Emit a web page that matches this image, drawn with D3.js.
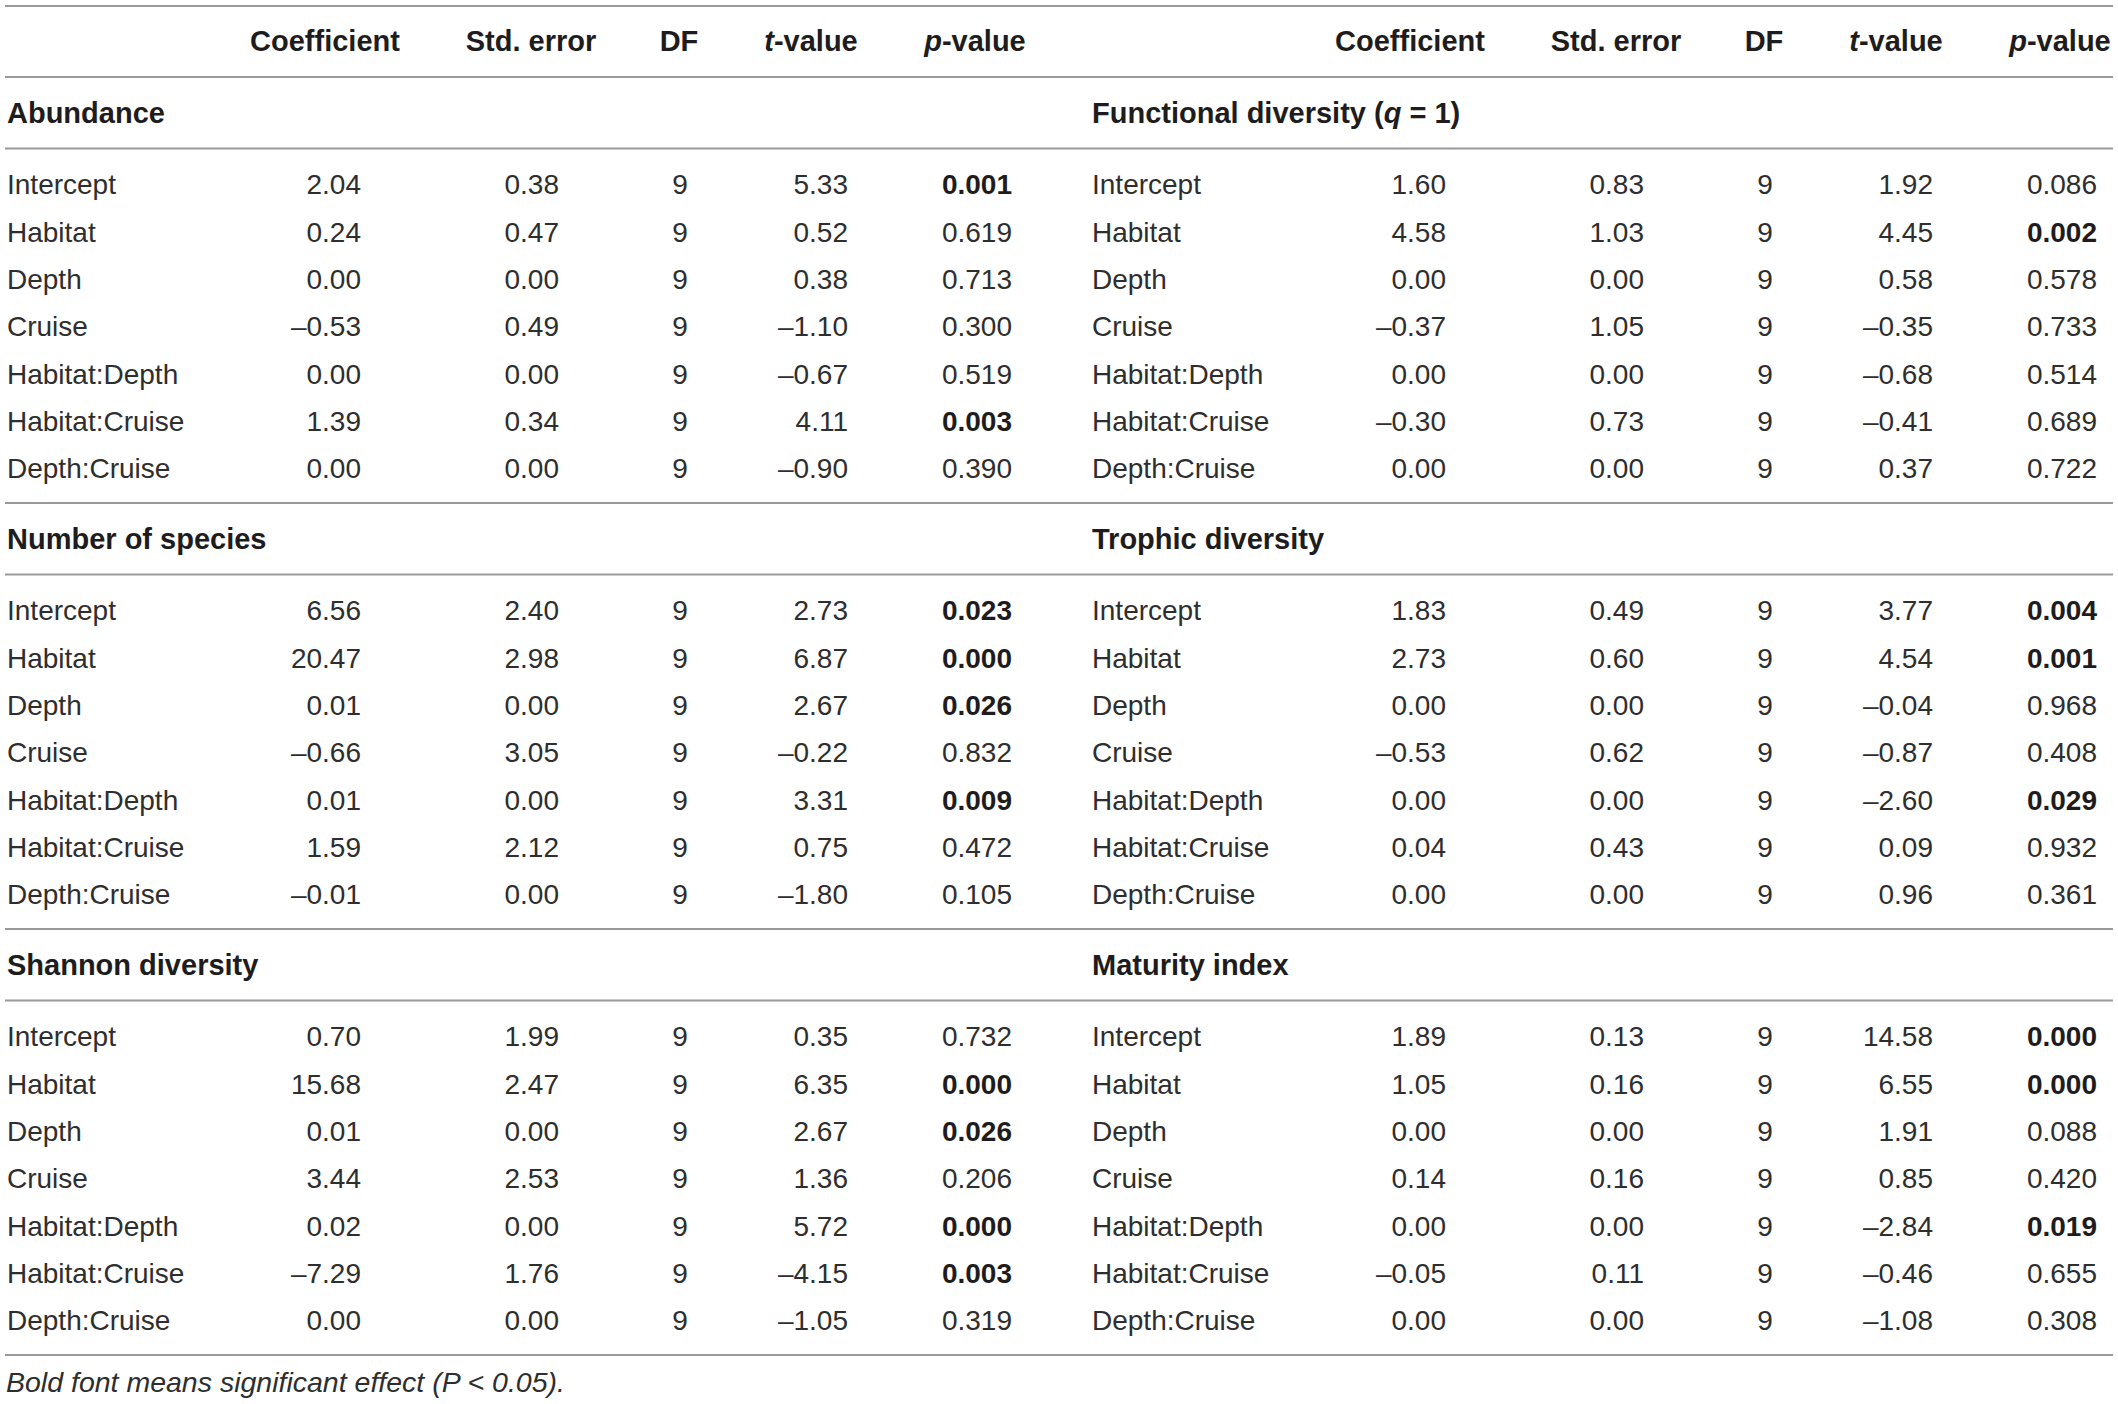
<!DOCTYPE html>
<html>
<head>
<meta charset="utf-8">
<script src="https://cdn.jsdelivr.net/npm/d3@7"></script>
<style>
  body { margin: 0; background: #fff; }
  svg text { font-family: "Liberation Sans", Arial, sans-serif; fill: #2e2e2e; }
  svg text.strong { fill: #1e1c1d; }
</style>
</head>
<body>
<svg id="table" width="2118" height="1404"></svg>
<script>
// column headings and row terms
const columns = ["Coefficient", "Std. error", "DF", "t-value", "p-value"];
const terms = ["Intercept", "Habitat", "Depth", "Cruise", "Habitat:Depth", "Habitat:Cruise", "Depth:Cruise"];
const leftSections = ["Abundance", "Number of species", "Shannon diversity"];
const rightSections = ["Functional diversity (q = 1)", "Trophic diversity", "Maturity index"];
const df = [9, 9, 9, 9, 9, 9, 9];

// abundance
const abundanceCoef = [2.04, 0.24, 0.00, -0.53, 0.00, 1.39, 0.00];
const abundanceSE = [0.38, 0.47, 0.00, 0.49, 0.00, 0.34, 0.00];
const abundanceT = [5.33, 0.52, 0.38, -1.10, -0.67, 4.11, -0.90];
const abundanceP = [0.001, 0.619, 0.713, 0.300, 0.519, 0.003, 0.390];

// number of species
const speciesCoef = [6.56, 20.47, 0.01, -0.66, 0.01, 1.59, -0.01];
const speciesSE = [2.40, 2.98, 0.00, 3.05, 0.00, 2.12, 0.00];
const speciesT = [2.73, 6.87, 2.67, -0.22, 3.31, 0.75, -1.80];
const speciesP = [0.023, 0.000, 0.026, 0.832, 0.009, 0.472, 0.105];

// shannon diversity
const shannonCoef = [0.70, 15.68, 0.01, 3.44, 0.02, -7.29, 0.00];
const shannonSE = [1.99, 2.47, 0.00, 2.53, 0.00, 1.76, 0.00];
const shannonT = [0.35, 6.35, 2.67, 1.36, 5.72, -4.15, -1.05];
const shannonP = [0.732, 0.000, 0.026, 0.206, 0.000, 0.003, 0.319];

// functional diversity (q = 1)
const functionalCoef = [1.60, 4.58, 0.00, -0.37, 0.00, -0.30, 0.00];
const functionalSE = [0.83, 1.03, 0.00, 1.05, 0.00, 0.73, 0.00];
const functionalT = [1.92, 4.45, 0.58, -0.35, -0.68, -0.41, 0.37];
const functionalP = [0.086, 0.002, 0.578, 0.733, 0.514, 0.689, 0.722];

// trophic diversity
const trophicCoef = [1.83, 2.73, 0.00, -0.53, 0.00, 0.04, 0.00];
const trophicSE = [0.49, 0.60, 0.00, 0.62, 0.00, 0.43, 0.00];
const trophicT = [3.77, 4.54, -0.04, -0.87, -2.60, 0.09, 0.96];
const trophicP = [0.004, 0.001, 0.968, 0.408, 0.029, 0.932, 0.361];

// maturity index
const maturityCoef = [1.89, 1.05, 0.00, 0.14, 0.00, -0.05, 0.00];
const maturitySE = [0.13, 0.16, 0.00, 0.16, 0.00, 0.11, 0.00];
const maturityT = [14.58, 6.55, 1.91, 0.85, -2.84, -0.46, -1.08];
const maturityP = [0.000, 0.000, 0.088, 0.420, 0.019, 0.655, 0.308];

const footnote = "Bold font means significant effect (P < 0.05).";

// build the table blocks from the arrays above
const blocks = [
  { side: "left", title: leftSections[0], cols: [abundanceCoef, abundanceSE, df, abundanceT, abundanceP] },
  { side: "left", title: leftSections[1], cols: [speciesCoef, speciesSE, df, speciesT, speciesP] },
  { side: "left", title: leftSections[2], cols: [shannonCoef, shannonSE, df, shannonT, shannonP] },
  { side: "right", title: rightSections[0], cols: [functionalCoef, functionalSE, df, functionalT, functionalP] },
  { side: "right", title: rightSections[1], cols: [trophicCoef, trophicSE, df, trophicT, trophicP] },
  { side: "right", title: rightSections[2], cols: [maturityCoef, maturitySE, df, maturityT, maturityP] },
];
blocks.forEach((b) => {
  b.index = (b.side === "left" ? leftSections : rightSections).indexOf(b.title);
});

const svg = d3.select("#table");
const fontSize = 28;
const boldSize = 29;
const lineColour = "#9a9a9a";

// scales
const side = d3.scaleBand().domain(["left", "right"]).range([0, 2170]);
const colRight = d3.scaleOrdinal().domain(columns).range([361, 559, 680, 848, 1012]);
const colHead = d3.scaleOrdinal().domain(columns).range([325, 531, 679, 811, 975]);
const sectionY = d3.scaleLinear().domain([0, 3]).range([77, 1355]);
const rowY = d3.scaleLinear().domain([0, terms.length - 1]).range([108, 392]);

// baseline for a row centred on y
const base = (y) => y + fontSize * 0.33;

// format numbers with typographic minus
function fmt(v, col) {
  if (col === "DF") return String(v);
  const s = v.toFixed(col === "p-value" ? 3 : 2);
  return s.replace("-", "\u2013");
}

// horizontal rules
const rules = [6, sectionY(0)];
d3.range(3).forEach((i) => {
  rules.push(sectionY(i) + 71.5, sectionY(i + 1));
});
svg
  .selectAll("line.rule")
  .data(rules)
  .join("line")
  .attr("class", "rule")
  .attr("x1", 5)
  .attr("x2", 2113)
  .attr("y1", (d) => d)
  .attr("y2", (d) => d)
  .style("stroke", lineColour)
  .style("stroke-width", 2);

// column headers
["left", "right"].forEach((s) => {
  columns.forEach((c) => {
    const t = svg
      .append("text")
      .attr("class", "strong")
      .attr("x", side(s) + colHead(c))
      .attr("y", base(42))
      .attr("text-anchor", "middle")
      .style("font-size", boldSize + "px")
      .style("font-weight", "bold");
    if (c === "t-value" || c === "p-value") {
      t.append("tspan").style("font-style", "italic").text(c[0]);
      t.append("tspan").text(c.slice(1));
    } else {
      t.text(c);
    }
  });
});

// sections
blocks.forEach((b) => {
  const x0 = side(b.side);
  const y0 = sectionY(b.index);
  const g = svg.append("g");

  // section title
  const title = g
    .append("text")
    .attr("class", "strong")
    .attr("x", x0 + 7)
    .attr("y", base(y0 + 37))
    .style("font-size", boldSize + "px")
    .style("font-weight", "bold");
  const m = b.title.match(/^(.*\()q( = 1\))$/);
  if (m) {
    title.append("tspan").text(m[1]);
    title.append("tspan").style("font-style", "italic").text("q");
    title.append("tspan").text(m[2]);
  } else {
    title.text(b.title);
  }

  // term labels
  g.selectAll("text.term")
    .data(terms)
    .join("text")
    .attr("class", "term")
    .attr("x", x0 + 7)
    .attr("y", (d, i) => base(y0 + rowY(i)))
    .style("font-size", fontSize + "px")
    .text((d) => d);

  // value cells
  columns.forEach((c, ci) => {
    g.selectAll("text.c" + ci)
      .data(b.cols[ci])
      .join("text")
      .attr("class", (d) => "c" + ci + (c === "p-value" && d < 0.05 ? " strong" : ""))
      .attr("x", x0 + colRight(c))
      .attr("y", (d, i) => base(y0 + rowY(i)))
      .attr("text-anchor", c === "DF" ? "middle" : "end")
      .style("font-size", fontSize + "px")
      .style("font-weight", (d) => (c === "p-value" && d < 0.05 ? "bold" : "normal"))
      .text((d) => fmt(d, c));
  });
});

// footnote
svg
  .append("text")
  .attr("x", 6)
  .attr("y", base(1383))
  .style("font-size", "28.5px")
  .style("font-style", "italic")
  .text(footnote);
</script>
</body>
</html>
